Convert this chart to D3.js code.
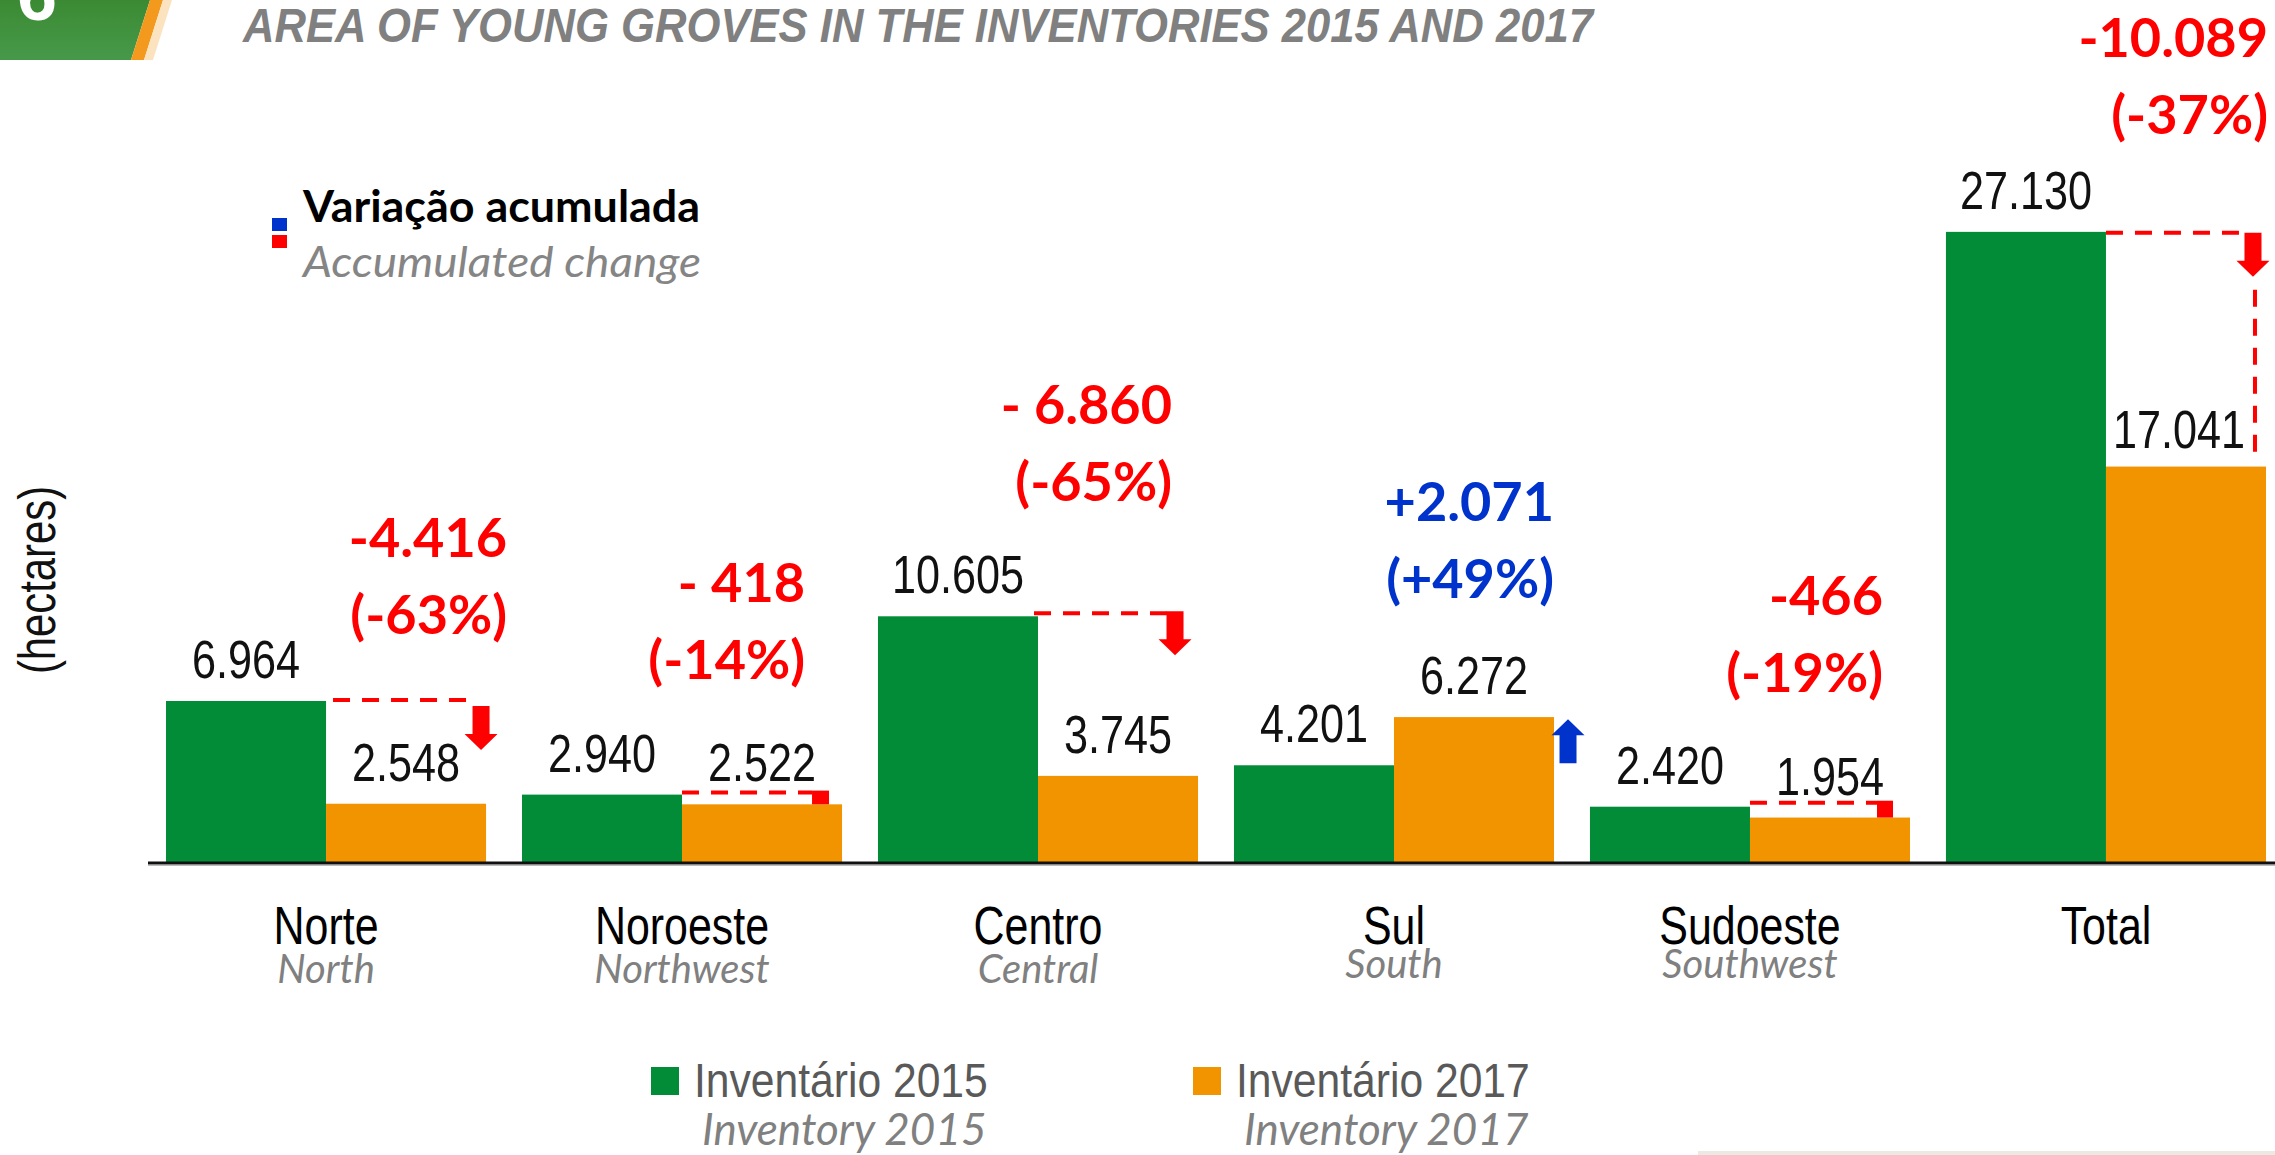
<!DOCTYPE html>
<html>
<head>
<meta charset="utf-8">
<script src="https://cdn.jsdelivr.net/npm/d3@7"></script>
<style>
  html, body { margin: 0; padding: 0; background: #ffffff; }
  svg { display: block; }
</style>
</head>
<body>
<svg id="chart" width="2275" height="1155"></svg>
<script>
// ---------------- DATA ----------------
const categories   = ["Norte", "Noroeste", "Centro", "Sul", "Sudoeste", "Total"];
const categoriesEn = ["North", "Northwest", "Central", "South", "Southwest", ""];
const inv2015      = [6964, 2940, 10605, 4201, 2420, 27130];
const inv2017      = [2548, 2522, 3745, 6272, 1954, 17041];
const changeAbs    = ["-4.416", "- 418", "- 6.860", "+2.071", "-466", "-10.089"];
const changePct    = ["(-63%)", "(-14%)", "(-65%)", "(+49%)", "(-19%)", "(-37%)"];
const seriesNames   = ["Inventário 2015", "Inventário 2017"];
const seriesNamesEn = ["Inventory 2015", "Inventory 2017"];
const titleText = "AREA OF YOUNG GROVES IN THE INVENTORIES 2015 AND 2017";
const yAxisTitle = "(hectares)";
const changeLegend = ["Variação acumulada", "Accumulated change"];

// ---------------- STYLE ----------------
const GREEN = "#038C38", ORANGE = "#F29300", RED = "#FF0000", BLUE = "#0033CC";
const ARIAL = "'Liberation Sans', Arial, sans-serif";
const LATO = "Lato, 'Open Sans', sans-serif";
const NARROW = 0.8;

const svg = d3.select("#chart");
const fmt = d3.formatLocale({decimal: ",", thousands: ".", grouping: [3], currency: ["", ""]}).format(",d");

// ---------------- SCALES ----------------
const x = d3.scaleBand().domain(categories).range([148, 2284]).paddingInner(0.101).paddingOuter(0.0506);
const xs = d3.scaleBand().domain([0, 1]).range([0, x.bandwidth()]).padding(0);
const y = d3.scaleLinear().domain([0, 30000]).range([863, 165.1]);

const rows = categories.map((c, i) => ({c, en: categoriesEn[i], v: [inv2015[i], inv2017[i]], i}));

// ---------------- LOGO ----------------
const logo = svg.append("g");
const lg = svg.append("defs").append("linearGradient").attr("id", "lg").attr("x1", 0).attr("y1", 0).attr("x2", 0).attr("y2", 1);
lg.append("stop").attr("offset", 0).attr("stop-color", "#3B8A33");
lg.append("stop").attr("offset", 1).attr("stop-color", "#47994A");
logo.append("path").attr("d", "M0,0 L150,0 L131,60 L0,60 Z").attr("fill", "url(#lg)");
logo.append("path").attr("d", "M150,0 L163,0 L144,60 L131,60 Z").attr("fill", "#F39A1E");
logo.append("path").attr("d", "M163,0 L172,0 L153,60 L144,60 Z").attr("fill", "#FBE3C0");
logo.append("text").attr("x", 37).attr("y", 20).attr("text-anchor", "middle")
  .attr("font-family", ARIAL).attr("font-weight", "bold").attr("font-size", 72).attr("fill", "#ffffff").text("6");

// ---------------- TITLE ----------------
svg.append("text").attr("x", 243).attr("y", 42)
  .attr("font-family", ARIAL).attr("font-weight", "bold").attr("font-style", "italic")
  .attr("font-size", 48).attr("fill", "#808080")
  .attr("textLength", 1350).attr("lengthAdjust", "spacingAndGlyphs")
  .text(titleText);

// ---------------- CHANGE LEGEND ----------------
svg.append("rect").attr("x", 272).attr("y", 218).attr("width", 15).attr("height", 13).attr("fill", BLUE);
svg.append("rect").attr("x", 272).attr("y", 235).attr("width", 15).attr("height", 13).attr("fill", RED);
svg.append("text").attr("x", 303).attr("y", 222).attr("font-family", LATO).attr("font-weight", "bold")
  .attr("font-size", 43).attr("fill", "#000").attr("textLength", 397).attr("lengthAdjust", "spacingAndGlyphs")
  .text(changeLegend[0]);
svg.append("text").attr("x", 303).attr("y", 277).attr("font-family", LATO).attr("font-style", "italic")
  .attr("font-size", 42).attr("fill", "#858585").attr("textLength", 398).attr("lengthAdjust", "spacingAndGlyphs")
  .text(changeLegend[1]);

// ---------------- Y AXIS TITLE ----------------
svg.append("text").attr("transform", "translate(55,580) rotate(-90) scale(0.82,1)")
  .attr("text-anchor", "middle").attr("font-family", ARIAL).attr("font-size", 51).attr("fill", "#111")
  .text(yAxisTitle);

// ---------------- BARS ----------------
const groups = svg.append("g").selectAll("g").data(rows).join("g")
  .attr("transform", d => `translate(${x(d.c)},0)`);
groups.selectAll("rect").data(d => d.v.map((v, k) => ({v, k}))).join("rect")
  .attr("x", d => xs(d.k)).attr("width", xs.bandwidth())
  .attr("y", d => y(d.v)).attr("height", d => y(0) - y(d.v))
  .attr("fill", d => d.k === 0 ? GREEN : ORANGE);

// baseline
svg.append("line").attr("x1", 148).attr("x2", 2275).attr("y1", y(0)).attr("y2", y(0))
  .attr("stroke", "#111").attr("stroke-width", 3);
svg.append("line").attr("x1", 148).attr("x2", 2275).attr("y1", y(0) + 2.5).attr("y2", y(0) + 2.5)
  .attr("stroke", "#bbb").attr("stroke-width", 1);

// value labels
const labelShift = [[0, 0], [0, 0], [0, 0], [0, 0], [0, 0], [0, -7]];
rows.forEach(d => {
  d.v.forEach((v, k) => {
    const cx = x(d.c) + xs(k) + xs.bandwidth() / 2 + labelShift[d.i][k];
    const dy = (d.i === 5 && k === 1) ? -19 : -23;
    svg.append("text")
      .attr("transform", `translate(${cx},${y(v) + dy}) scale(${NARROW},1)`)
      .attr("text-anchor", "middle").attr("font-family", ARIAL).attr("font-size", 54).attr("fill", "#111")
      .text(fmt(v));
  });
});

// ---------------- CHANGE ANNOTATIONS ----------------
const ann = svg.append("g");
function arrow(cx, y0, dir, color) {
  const s = dir; // 1 = down, -1 = up
  const p = d3.path();
  p.moveTo(cx - 8.5, y0);
  p.lineTo(cx + 8.5, y0);
  p.lineTo(cx + 8.5, y0 + s * 28);
  p.lineTo(cx + 16.5, y0 + s * 28);
  p.lineTo(cx, y0 + s * 44);
  p.lineTo(cx - 16.5, y0 + s * 28);
  p.lineTo(cx - 8.5, y0 + s * 28);
  p.closePath();
  ann.append("path").attr("d", p.toString()).attr("fill", color);
}
function dashH(x1, x2, yy) {
  ann.append("line").attr("x1", x1).attr("x2", x2).attr("y1", yy).attr("y2", yy)
    .attr("stroke", RED).attr("stroke-width", 4).attr("stroke-dasharray", "17 12");
}
const greenRight = c => x(c) + xs(0) + xs.bandwidth();
const orangeRight = c => x(c) + xs(1) + xs.bandwidth();

// Norte
dashH(greenRight("Norte") + 7, orangeRight("Norte") - 17, y(inv2015[0]) - 1);
arrow(orangeRight("Norte") - 5, y(inv2015[0]) + 5, 1, RED);
// Noroeste
dashH(greenRight("Noroeste"), orangeRight("Noroeste") - 30, y(inv2015[1]) - 2);
ann.append("rect").attr("x", orangeRight("Noroeste") - 30).attr("y", y(inv2015[1]) - 4)
  .attr("width", 17).attr("height", y(inv2017[1]) - y(inv2015[1]) + 4).attr("fill", RED);
// Centro
dashH(greenRight("Centro") - 4, orangeRight("Centro") - 31, y(inv2015[2]) - 3);
arrow(orangeRight("Centro") - 23, y(inv2015[2]) - 5, 1, RED);
// Sul
arrow(orangeRight("Sul") + 14, y(inv2015[3]) - 2, -1, BLUE);
// Sudoeste
dashH(greenRight("Sudoeste"), orangeRight("Sudoeste") - 33, y(inv2015[4]) - 4);
ann.append("rect").attr("x", orangeRight("Sudoeste") - 33).attr("y", y(inv2015[4]) - 6)
  .attr("width", 16).attr("height", y(inv2017[4]) - y(inv2015[4]) + 6).attr("fill", RED);
// Total
dashH(greenRight("Total"), orangeRight("Total") - 22, y(inv2015[5]) + 1);
arrow(orangeRight("Total") - 13, y(inv2015[5]) + 1, 1, RED);
ann.append("line").attr("x1", orangeRight("Total") - 11).attr("x2", orangeRight("Total") - 11)
  .attr("y1", y(inv2015[5]) + 58).attr("y2", y(inv2017[5]) - 14)
  .attr("stroke", RED).attr("stroke-width", 4).attr("stroke-dasharray", "17 12");

// annotation texts (right-aligned)
const annRight = [21, -37, -26, 0, -27, 2];
const annBase = [557, 602, 424, 521, 615, 57];
rows.forEach(d => {
  const col = changeAbs[d.i].startsWith("+") ? BLUE : RED;
  const xr = orangeRight(d.c) + annRight[d.i];
  ann.append("text").attr("x", xr).attr("y", annBase[d.i]).attr("text-anchor", "end")
    .attr("font-family", LATO).attr("font-weight", "bold").attr("font-size", 54).attr("fill", col)
    .text(changeAbs[d.i]);
  ann.append("text").attr("x", xr).attr("y", annBase[d.i] + 77).attr("text-anchor", "end")
    .attr("font-family", LATO).attr("font-weight", "bold").attr("font-size", 54).attr("fill", col)
    .text(changePct[d.i]);
});

// ---------------- CATEGORY LABELS ----------------
rows.forEach(d => {
  const cx = x(d.c) + x.bandwidth() / 2;
  svg.append("text").attr("transform", `translate(${cx},944) scale(0.81,1)`)
    .attr("text-anchor", "middle").attr("font-family", ARIAL).attr("font-size", 53).attr("fill", "#000")
    .text(d.c);
  if (d.en) {
    svg.append("text").attr("x", cx).attr("y", (d.c === "Sul" || d.c === "Sudoeste") ? 978 : 983)
      .attr("text-anchor", "middle").attr("font-family", LATO).attr("font-style", "italic")
      .attr("font-size", 40).attr("fill", "#808080").text(d.en);
  }
});

// ---------------- SERIES LEGEND ----------------
const legX = [651, 1193];
[GREEN, ORANGE].forEach((col, k) => {
  svg.append("rect").attr("x", legX[k]).attr("y", 1067).attr("width", 28).attr("height", 28).attr("fill", col);
  svg.append("text").attr("transform", `translate(${legX[k] + 43},1097) scale(0.87,1)`)
    .attr("font-family", ARIAL).attr("font-size", 49).attr("fill", "#595959").text(seriesNames[k]);
  svg.append("text").attr("x", legX[k] + 51).attr("y", 1145)
    .attr("font-family", LATO).attr("font-style", "italic").attr("font-size", 44).attr("fill", "#808080")
    .text(seriesNamesEn[k]);
});

// decorative bottom strip
svg.append("rect").attr("x", 1698).attr("y", 1151).attr("width", 577).attr("height", 4).attr("fill", "#ECE8E4");
</script>
</body>
</html>
